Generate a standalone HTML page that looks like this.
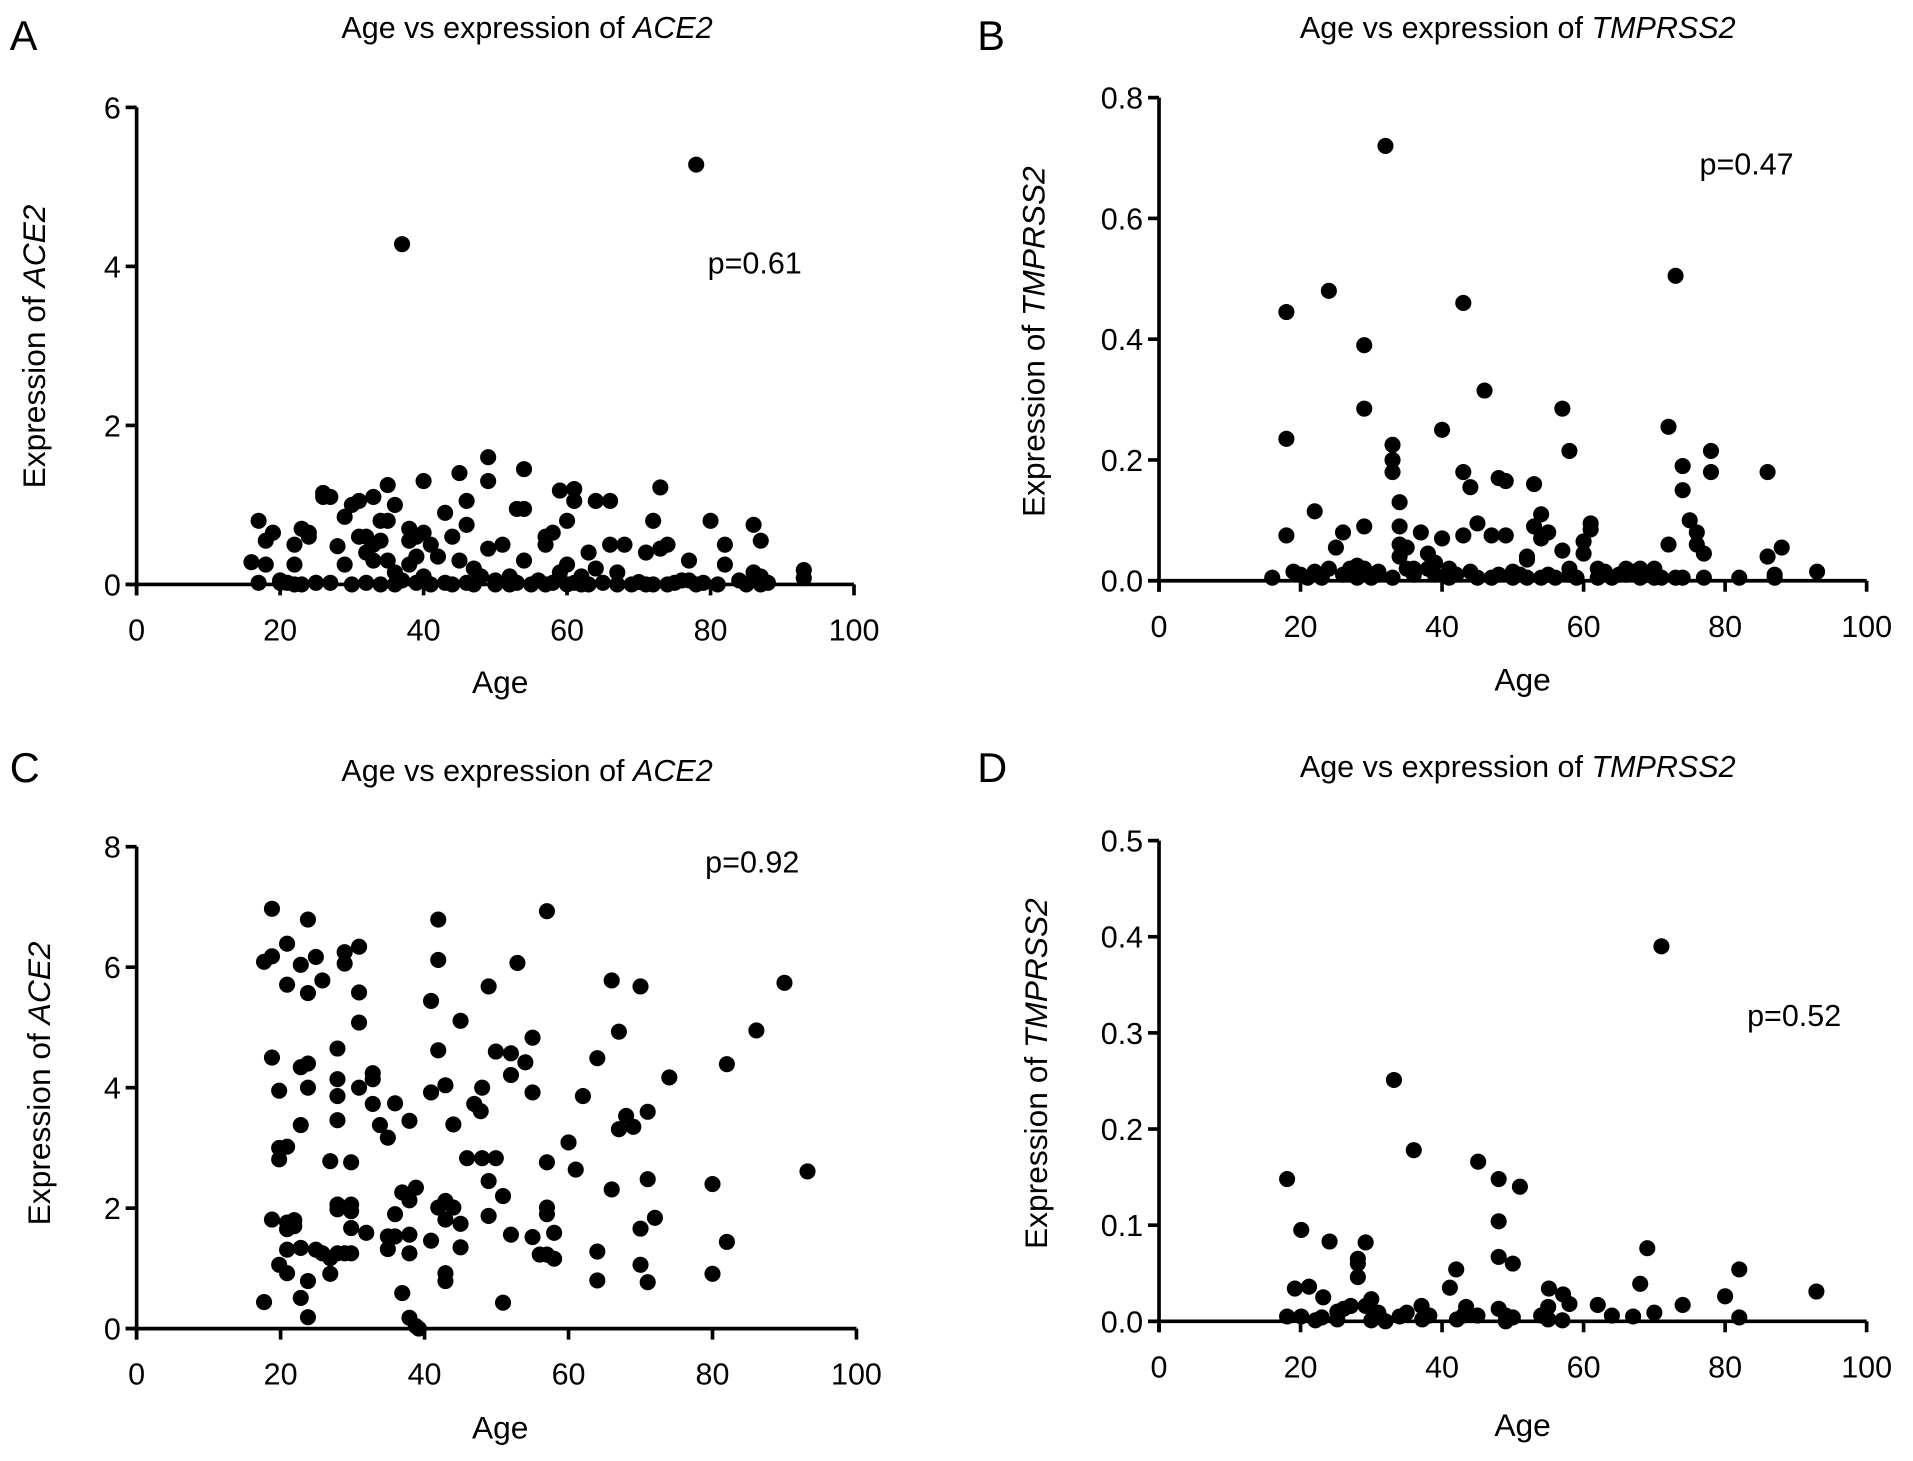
<!DOCTYPE html>
<html><head><meta charset="utf-8"><style>
html,body{margin:0;padding:0;background:#fff;}
svg{display:block;font-family:"Liberation Sans",Arial,sans-serif;}
</style></head><body>
<svg id="fig" width="1913" height="1461" viewBox="0 0 1568 1197.5" xmlns="http://www.w3.org/2000/svg">
<text x="8" y="41" font-size="34">A</text>
<text x="801" y="41" font-size="34">B</text>
<text x="8" y="641" font-size="34">C</text>
<text x="801" y="641" font-size="34">D</text>
<text x="432" y="31" font-size="25" text-anchor="middle">Age vs expression of <tspan font-style="italic">ACE2</tspan></text>
<text x="1244" y="31" font-size="25" text-anchor="middle">Age vs expression of <tspan font-style="italic">TMPRSS2</tspan></text>
<text x="432" y="640" font-size="25" text-anchor="middle">Age vs expression of <tspan font-style="italic">ACE2</tspan></text>
<text x="1244" y="637" font-size="25" text-anchor="middle">Age vs expression of <tspan font-style="italic">TMPRSS2</tspan></text>
<text x="410" y="568" font-size="26" text-anchor="middle">Age</text>
<text x="1248" y="566" font-size="26" text-anchor="middle">Age</text>
<text x="410" y="1179" font-size="26" text-anchor="middle">Age</text>
<text x="1248" y="1177" font-size="26" text-anchor="middle">Age</text>
<text transform="translate(37,284) rotate(-90)" font-size="26" text-anchor="middle">Expression of <tspan font-style="italic">ACE2</tspan></text>
<text transform="translate(856,280) rotate(-90)" font-size="26" text-anchor="middle">Expression of <tspan font-style="italic">TMPRSS2</tspan></text>
<text transform="translate(41,888) rotate(-90)" font-size="26" text-anchor="middle">Expression of <tspan font-style="italic">ACE2</tspan></text>
<text transform="translate(858,880) rotate(-90)" font-size="26" text-anchor="middle">Expression of <tspan font-style="italic">TMPRSS2</tspan></text>
<text x="580" y="224" font-size="25">p=0.61</text>
<text x="1393" y="143" font-size="25">p=0.47</text>
<text x="578" y="715" font-size="25">p=0.92</text>
<text x="1432" y="841" font-size="25">p=0.52</text>
</svg>
<script>
const xTicks=[0,20,40,60,80,100];
const yTicksA=[0,2,4,6];
const yTicksB=[0,0.2,0.4,0.6,0.8];
const yTicksC=[0,2,4,6,8];
const yTicksD=[0,0.1,0.2,0.3,0.4,0.5];
const yLabelsA=["0","2","4","6"];
const yLabelsB=["0.0","0.2","0.4","0.6","0.8"];
const yLabelsC=["0","2","4","6","8"];
const yLabelsD=["0.0","0.1","0.2","0.3","0.4","0.5"];

const agesA=[37,78,16,17,17,18,19,18,20,21,22,22,23,24,24,22,25,26,26,27,28,29,29,30,31,31,32,32,33,33,33,34,34,35,35,35,36,36,37,38,38,38,39,39,40,40,40,41,42,43,44,45,45,46,46,47,48,49,49,49,50,51,52,53,54,54,54,56,57,57,58,59,59,60,60,61,61,62,63,64,64,66,66,67,68,70,71,72,73,73,74,76,77,77,78,80,81,82,82,84,86,86,87,87,88,93,93,20,23,27,30,32,34,36,39,41,43,44,46,47,50,52,53,55,57,58,60,61,62,63,65,67,69,71,72,74,75,79,85,87];
const exprA=[4.28,5.28,0.28,0.8,0.02,0.55,0.65,0.25,0.05,0.02,0.5,0.25,0.7,0.6,0.65,0.0,0.02,1.15,1.1,1.1,0.48,0.25,0.85,1.0,1.05,0.6,0.6,0.4,0.5,1.1,0.3,0.8,0.55,1.25,0.8,0.3,1.0,0.15,0.05,0.7,0.55,0.25,0.35,0.6,1.3,0.65,0.1,0.5,0.35,0.9,0.6,1.4,0.3,1.05,0.75,0.2,0.1,1.6,1.3,0.45,0.05,0.5,0.1,0.95,0.95,1.45,0.3,0.05,0.6,0.5,0.65,1.18,0.15,0.8,0.25,1.2,1.05,0.1,0.4,1.05,0.2,1.05,0.5,0.15,0.5,0.03,0.4,0.8,0.45,1.22,0.5,0.05,0.3,0.05,0.0,0.8,0.0,0.5,0.25,0.05,0.75,0.15,0.55,0.1,0.02,0.18,0.08,0.02,0.0,0.02,0.0,0.02,0.0,0.0,0.02,0.0,0.02,0.0,0.02,0.0,0.0,0.0,0.02,0.0,0.0,0.02,0.0,0.02,0.0,0.0,0.02,0.0,0.0,0.0,0.0,0.0,0.02,0.02,0.0,0.0];

const agesB=[16,18,18,18,19,20,21,22,22,24,24,25,26,27,28,29,29,29,29,30,31,32,33,33,33,34,34,34,34,35,35,36,37,38,38,39,40,40,41,42,43,43,43,44,44,45,46,47,47,48,49,49,50,51,52,52,53,53,54,54,55,55,56,57,57,58,58,59,60,60,61,61,62,63,64,65,66,67,68,69,70,71,72,72,73,74,74,74,75,76,76,77,77,78,78,82,86,86,87,87,88,93,23,26,28,31,33,36,39,41,45,48,50,52,54,58,62,66,68,70,73];
const exprB=[0.005,0.445,0.235,0.075,0.015,0.01,0.005,0.115,0.015,0.48,0.02,0.055,0.08,0.02,0.025,0.39,0.285,0.09,0.02,0.005,0.01,0.72,0.225,0.2,0.18,0.13,0.09,0.06,0.04,0.055,0.02,0.01,0.08,0.045,0.02,0.03,0.25,0.07,0.005,0.01,0.46,0.18,0.075,0.155,0.015,0.095,0.315,0.075,0.005,0.17,0.165,0.075,0.005,0.01,0.035,0.04,0.16,0.09,0.11,0.07,0.08,0.01,0.005,0.285,0.05,0.215,0.01,0.005,0.065,0.045,0.085,0.095,0.02,0.015,0.005,0.01,0.01,0.015,0.005,0.01,0.02,0.005,0.06,0.255,0.505,0.19,0.15,0.005,0.1,0.08,0.06,0.045,0.005,0.215,0.18,0.005,0.18,0.04,0.01,0.005,0.055,0.015,0.005,0.01,0.005,0.015,0.005,0.02,0.01,0.02,0.005,0.01,0.015,0.005,0.005,0.02,0.005,0.02,0.02,0.005,0.005];

const agesC=[18.8,23.8,41.9,57,20.9,30.9,17.7,18.8,22.8,24.9,28.9,28.9,41.9,52.9,20.9,23.8,25.8,30.9,48.9,66,70,90,40.9,30.9,45,67,86.1,55,27.9,41.9,18.8,22.8,23.8,49.9,52,54,64,82,52,74,32.8,32.8,27.9,19.8,23.8,30.9,40.9,42.9,48,55,27.9,32.8,35.9,46.9,47.8,62,71,37.9,44,27.9,22.8,33.8,34.9,68,67,69,60,19.8,20.9,19.8,26.9,29.8,45.9,48,49.9,57,61,93.2,48.9,71,80,66,50.9,36.9,38.8,37.9,27.9,29.8,27.9,29.8,35.9,41.9,42.9,44,42.9,45,48.9,57,57,72,18.8,20.9,21.9,20.9,21.9,29.8,31.9,70,34.9,35.9,37.9,40.9,52,55,58,82,20.9,22.8,24.9,25.8,26.9,27.9,28.9,29.8,34.9,37.9,45,56,57,58,64,19.8,20.9,26.9,42.9,42.9,70,80,23.8,64,71,36.9,17.7,22.8,50.9,23.8,37.9,38.8,39.2];
const exprC=[6.97,6.79,6.79,6.93,6.39,6.34,6.09,6.18,6.04,6.17,6.25,6.06,6.12,6.07,5.71,5.57,5.78,5.58,5.68,5.78,5.68,5.74,5.44,5.08,5.11,4.93,4.95,4.83,4.65,4.62,4.5,4.34,4.4,4.6,4.57,4.42,4.49,4.39,4.21,4.17,4.24,4.14,4.14,3.95,4.0,4.0,3.92,4.04,4.0,3.92,3.86,3.73,3.74,3.73,3.61,3.86,3.6,3.45,3.39,3.46,3.38,3.38,3.17,3.53,3.31,3.35,3.09,3.0,3.02,2.81,2.78,2.76,2.83,2.83,2.83,2.76,2.64,2.61,2.45,2.48,2.4,2.31,2.2,2.26,2.34,2.13,2.06,2.06,1.98,1.95,1.9,2.01,2.12,2.01,1.81,1.74,1.87,2.01,1.9,1.84,1.81,1.76,1.8,1.65,1.7,1.67,1.59,1.66,1.53,1.53,1.56,1.46,1.56,1.52,1.59,1.44,1.31,1.34,1.31,1.25,1.17,1.25,1.25,1.25,1.32,1.25,1.35,1.23,1.23,1.16,1.28,1.06,0.92,0.91,0.92,0.79,1.06,0.91,0.79,0.8,0.77,0.59,0.44,0.51,0.43,0.19,0.18,0.04,0.0];

const agesD=[71,33.2,36,45.1,18.1,48,51,48,20.1,24.1,29.2,69,48,50,28.1,28.1,28.1,42,82,41.1,68,19.2,21.2,23.2,92.9,80,55.1,57.1,58,62,74,30,27.1,29.2,37.1,43.4,55,48,70,64,67,82,18.1,20.1,22.1,25.2,25.2,31,32,30,34,35,38.2,37.2,42.1,43,45,49,50,49,54,55,57,26.1,23];
const exprD=[0.39,0.251,0.178,0.166,0.148,0.148,0.14,0.104,0.095,0.083,0.082,0.076,0.067,0.06,0.065,0.06,0.046,0.054,0.054,0.035,0.039,0.034,0.036,0.025,0.031,0.026,0.034,0.028,0.018,0.017,0.017,0.023,0.016,0.016,0.016,0.015,0.015,0.013,0.009,0.006,0.005,0.004,0.005,0.005,0.001,0.01,0.002,0.009,0.0,0.001,0.005,0.009,0.006,0.002,0.002,0.006,0.006,0.006,0.004,0.0,0.006,0.002,0.001,0.013,0.004];

const NS="http://www.w3.org/2000/svg";
const svg=document.getElementById('fig');
function mk(tag,attrs){const e=document.createElementNS(NS,tag);for(const k in attrs)e.setAttribute(k,attrs[k]);svg.appendChild(e);return e;}

function panel(id,ages,vals,yTicks,yLabels,L){
  const yMax=yTicks[yTicks.length-1];
  const sx=v=>L.x0+(v/100)*(L.x1-L.x0);
  const sy=v=>L.y0-(v/yMax)*(L.y0-L.yTop);
  for(let i=0;i<ages.length;i++){
    const c=mk('circle',{cx:sx(ages[i]),cy:sy(vals[i]),r:6.6,fill:'#000'});
    
    
  }
  const ya=mk('line',{x1:L.x0,y1:L.yTop,x2:L.x0,y2:L.y0+9,stroke:'#000','stroke-width':3});
  
  
  const xa=mk('line',{x1:L.x0-9,y1:L.y0,x2:L.x1,y2:L.y0,stroke:'#000','stroke-width':3});
  
  
  yTicks.forEach((t,i)=>{
    const y=sy(t);
    const tk=mk('line',{x1:L.x0-9,y1:y,x2:L.x0,y2:y,stroke:'#000','stroke-width':3});
    
    
    const tx=mk('text',{x:L.x0-13,y:y+9,'font-size':25,'text-anchor':'end'});
    tx.textContent=yLabels[i];
    
    
  });
  xTicks.forEach(t=>{
    const x=sx(t);
    const tk=mk('line',{x1:x,y1:L.y0,x2:x,y2:L.y0+9,stroke:'#000','stroke-width':3});
    
    
    const tx=mk('text',{x:x,y:L.y0+46,'font-size':25,'text-anchor':'middle'});
    tx.textContent=String(t);
    
    
  });
}
panel('a',agesA,exprA,yTicksA,yLabelsA,{x0:112,x1:700,y0:479,yTop:88});
panel('b',agesB,exprB,yTicksB,yLabelsB,{x0:950,x1:1530,y0:476,yTop:80});
panel('c',agesC,exprC,yTicksC,yLabelsC,{x0:112,x1:702,y0:1089,yTop:694});
panel('d',agesD,exprD,yTicksD,yLabelsD,{x0:950,x1:1530,y0:1083,yTop:689});
</script>
</body></html>
